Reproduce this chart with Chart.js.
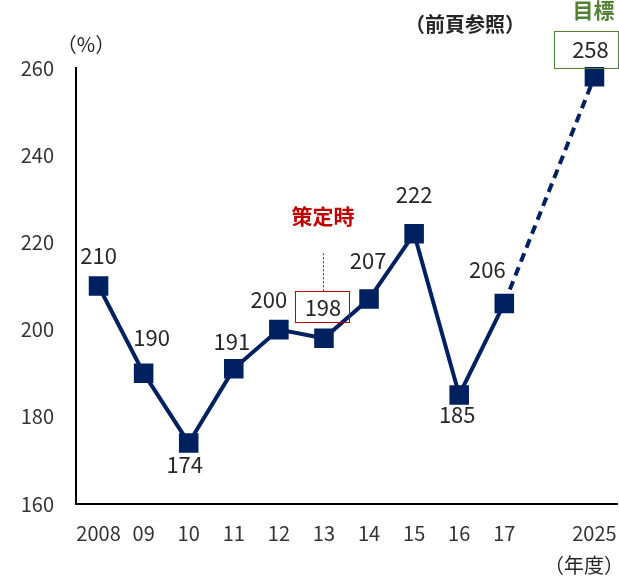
<!DOCTYPE html>
<html>
<head>
<meta charset="utf-8">
<script src="https://cdn.jsdelivr.net/npm/chart.js@4.4.1/dist/chart.umd.min.js"></script>
<style>
  html, body { margin: 0; padding: 0; background: #fff; overflow: hidden; }
  canvas { display: block; }
</style>
</head>
<body>
<canvas id="lineGraph" width="619" height="577"></canvas>
<script>
const years = ['2008', '09', '10', '11', '12', '13', '14', '15', '16', '17', '', '2025'];
const ratio = [210, 190, 174, 191, 200, 198, 207, 222, 185, 206, null, 258];
const yTicks = [160, 180, 200, 220, 240, 260];

const FONT = '"Noto Sans CJK JP", "Noto Sans", sans-serif';
const NAVY = '#002060';
const RED = '#c00000';
const GREEN = '#538135';

// label placement relative to each point (dx, dy)
const labelOffsets = [
    [0, -30], [8, -36], [-4, 22], [-2, -27], [-10, -30], [-1, -31],
    [-1, -38], [0, -39], [-2, 20], [-17, -34], null, [-4, -27]
];

const labelPlugin = {
    id: 'labels',
    afterDatasetsDraw(chart) {
        const ctx = chart.ctx;
        const meta = chart.getDatasetMeta(0);
        ctx.save();
        ctx.textAlign = 'center';
        ctx.textBaseline = 'middle';
        ctx.font = '22px ' + FONT;
        ctx.fillStyle = '#262626';
        meta.data.forEach((pt, i) => {
            const v = ratio[i];
            const off = labelOffsets[i];
            if (v == null || !off) return;
            ctx.fillText(String(v), pt.x + off[0], pt.y + off[1]);
        });

        // 策定時 box + leader
        const p13 = meta.data[5];
        const bx = Math.round(p13.x) - 1, by = p13.y - 31;
        ctx.strokeStyle = RED;
        ctx.lineWidth = 1;
        ctx.strokeRect(bx - 27.5, Math.round(by) - 15.5, 54, 31);
        ctx.setLineDash([2, 2]);
        ctx.beginPath();
        ctx.moveTo(bx + 0.5, by - 16);
        ctx.lineTo(bx + 0.5, by - 54);
        ctx.stroke();
        ctx.setLineDash([]);
        ctx.fillStyle = RED;
        ctx.font = 'bold 21px ' + FONT;
        ctx.fillText('策定時', bx, by - 91);

        // 目標 box
        const pT = meta.data[11];
        const gy = Math.round(pT.y - 27);
        ctx.strokeStyle = GREEN;
        ctx.strokeRect(554.5, gy - 18.5, 64, 37);
        ctx.fillStyle = GREEN;
        ctx.font = 'bold 21px ' + FONT;
        ctx.fillText('目標', pT.x - 1, 10);

        // misc text
        ctx.fillStyle = '#262626';
        ctx.font = 'bold 20px ' + FONT;
        ctx.fillText('（前頁参照）', 465, 24);
        ctx.font = '20px ' + FONT;
        ctx.fillText('（%）', 86, 44);
        ctx.textAlign = 'right';
        ctx.fillText('（年度）', 624, 565);
        ctx.restore();
    }
};

const ctx = document.getElementById('lineGraph').getContext('2d');

const chart = new Chart(ctx, {
    type: 'line',
    data: {
        labels: years,
        datasets: [
            {
                data: ratio,
                borderColor: NAVY,
                backgroundColor: NAVY,
                borderWidth: 4,
                pointStyle: 'rect',
                pointRadius: 11,
                pointHoverRadius: 11,
                spanGaps: true,
                tension: 0,
                clip: false,
                segment: {
                    borderDash: c => c.p1DataIndex === 11 ? [9, 6] : undefined
                }
            }
        ]
    },
    options: {
        responsive: false,
        animation: false,
        layout: { autoPadding: false, padding: { top: 68, right: 2, left: 0, bottom: 0 } },
        plugins: {
            legend: { display: false },
            tooltip: { enabled: false }
        },
        scales: {
            x: {
                offset: true,
                grid: { display: false, drawTicks: false },
                border: { display: true, color: '#000', width: 2 },
                ticks: {
                    color: '#333',
                    font: { family: FONT, size: 20 },
                    padding: 17,
                    maxRotation: 0,
                    autoSkip: false
                },
                afterFit(s) {
                    s.height = 73;
                    s.paddingLeft = 0;
                    s.paddingRight = 0;
                }
            },
            y: {
                min: 160,
                max: 260,
                grid: { display: false, drawTicks: false },
                border: { display: true, color: '#000', width: 2 },
                afterBuildTicks(s) { s.ticks = yTicks.map(v => ({ value: v })); },
                ticks: {
                    color: '#333',
                    font: { family: FONT, size: 20 },
                    padding: 22
                },
                afterFit(s) {
                    s.width = 76;
                    s.paddingTop = 0;
                    s.paddingBottom = 0;
                }
            }
        }
    },
    plugins: [labelPlugin]
});
</script>
</body>
</html>
